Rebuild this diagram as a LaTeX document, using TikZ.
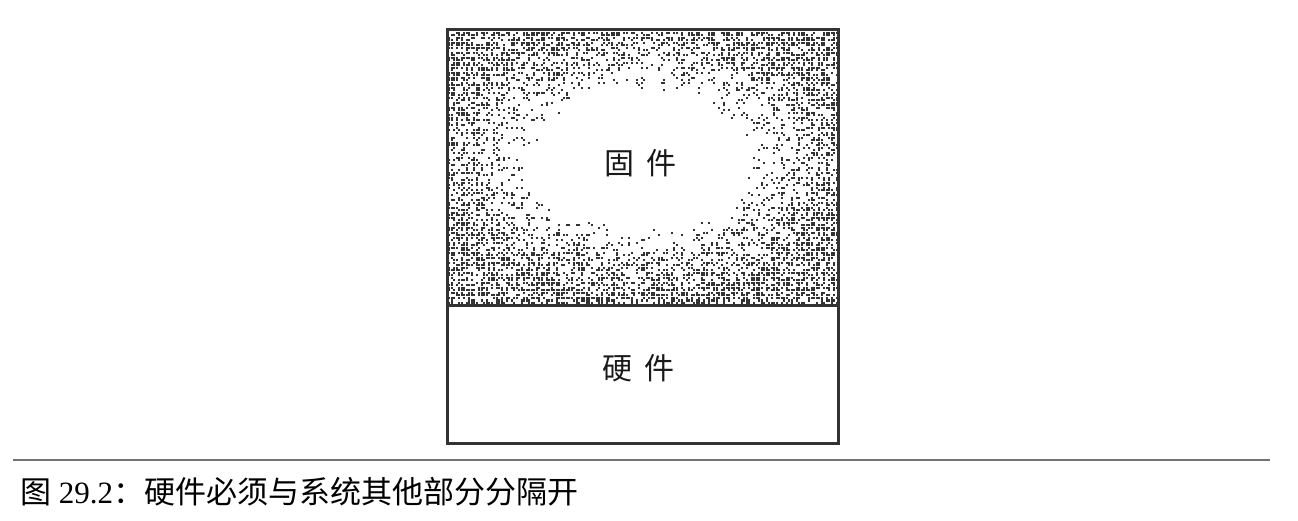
\documentclass[tikz,border=0pt]{standalone}
\usepackage{fontspec}
\setmainfont{Liberation Serif}
\newfontfamily\cjk{Noto Sans CJK SC}
\usetikzlibrary{positioning}

\tikzset{
  layerbox/.style = {draw = black!80, line width = 3pt},
  layerlabel/.style = {font = \cjk\fontsize{30}{36}\selectfont, text = black!90},
  speck/.style = {fill = black!80}
}

\begin{document}
\begin{tikzpicture}[x = 1pt, y = 1pt]
  \useasboundingbox (0, 0) rectangle (1298, 520);
  % grainy fill of the firmware layer
  \pgfmathsetseed{29}
  \begin{scope}
    \clip (447, 215) rectangle (838, 490);
    \foreach \gx in {448,450.5,...,838} {
      \foreach \gy in {216,218.5,...,490} {
        \pgfmathsetmacro\rr{sqrt(((\gx-641)/210)^2 + ((\gy-358)/137)^2)}
        \pgfmathsetmacro\pp{min(0.55, max(0, (\rr-0.5)*1.15))}
        \pgfmathparse{rnd < \pp ? 1 : 0}
        \ifnum\pgfmathresult=1
          \fill [speck] (\gx, \gy) rectangle ++(2.3, 2.3);
        \fi
      }
    }
  \end{scope}
  \coordinate (tl) at (447, 490);
  \coordinate (br) at (838, 77);
  \coordinate (ml) at (447, 215);
  \coordinate (mr) at (838, 215);
  \draw [layerbox] (tl) rectangle (br);
  \draw [layerbox] (ml) -- (mr);
  \node [layerlabel] (firmware) at (640, 357) {固\hspace{12pt}件};
  \node [layerlabel] (hardware) at (638, 152) {硬\hspace{12pt}件};
  % caption
  \coordinate (rulel) at (13, 60);
  \coordinate (ruler) at (1270, 60);
  \draw [black!55, line width = 1.6pt] (rulel) -- (ruler);
  \node [anchor = base west, inner sep = 0pt, font = \fontsize{31}{36}\selectfont] (caption) at (20, 17)
    {{\cjk 图} 29.2{\cjk ：硬件必须与系统其他部分分隔开}};
\end{tikzpicture}
\end{document}
